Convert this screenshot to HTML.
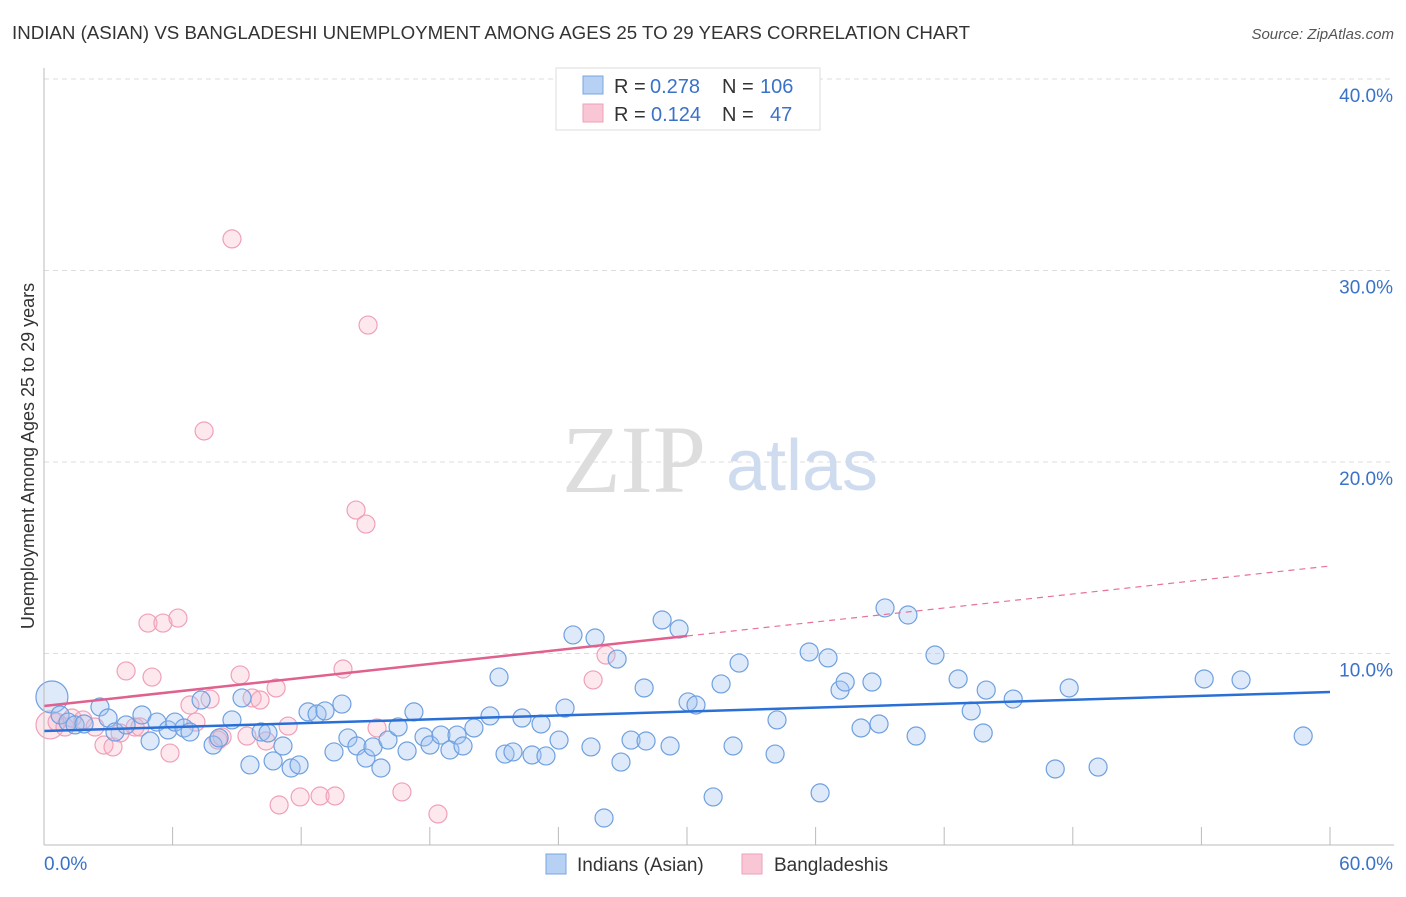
<!DOCTYPE html>
<html><head><meta charset="utf-8"><style>
body{margin:0;background:#fff;font-family:"Liberation Sans",sans-serif}
svg text{font-family:"Liberation Sans",sans-serif}
</style></head><body>
<svg id="c" width="1406" height="892">
<text x="12" y="39" font-size="18" fill="#333" textLength="958" lengthAdjust="spacingAndGlyphs">INDIAN (ASIAN) VS BANGLADESHI UNEMPLOYMENT AMONG AGES 25 TO 29 YEARS CORRELATION CHART</text>
<text x="1394" y="39" font-size="15" fill="#555" text-anchor="end" font-style="italic">Source: ZipAtlas.com</text>
<g id="grid"></g>
<text x="634" y="492" font-size="96" fill="#ddd" text-anchor="middle" style="font-family:'Liberation Serif',serif">ZIP</text>
<text x="802" y="490" font-size="72" fill="#cfdcf0" text-anchor="middle">atlas</text>
<g id="marks"></g>
<g id="axes"></g>
<text transform="translate(34,456) rotate(-90)" font-size="18" fill="#333" text-anchor="middle">Unemployment Among Ages 25 to 29 years</text>
<g>
<rect x="556" y="68" width="264" height="62" fill="#fff" stroke="#ddd"/>
<rect x="583" y="76" width="20" height="18" fill="#b7d1f4" stroke="#7aa6e0"/>
<rect x="583" y="104" width="20" height="18" fill="#f9c6d5" stroke="#f0a0b8"/>
<text x="614" y="93" font-size="20" fill="#333">R =</text>
<text x="650" y="93" font-size="20" fill="#3a72c8">0.278</text>
<text x="722" y="93" font-size="20" fill="#333">N =</text>
<text x="760" y="93" font-size="20" fill="#3a72c8">106</text>
<text x="614" y="121" font-size="20" fill="#333">R =</text>
<text x="651" y="121" font-size="20" fill="#3a72c8">0.124</text>
<text x="722" y="121" font-size="20" fill="#333">N =</text>
<text x="770" y="121" font-size="20" fill="#3a72c8">47</text>
</g>
<g>
<rect x="546" y="854" width="20" height="20" fill="#b7d1f4" stroke="#7aa6e0"/>
<text x="577" y="871" font-size="19" fill="#333">Indians (Asian)</text>
<rect x="742" y="854" width="20" height="20" fill="#f9c6d5" stroke="#f0a0b8"/>
<text x="774" y="871" font-size="19" fill="#333">Bangladeshis</text>
</g>
</svg>
<script>
const yTicks=[10,20,30,40];
const yTickLabels=["10.0%","20.0%","30.0%","40.0%"];
const xTickVals=[0,6,12,18,24,30,36,42,48,54,60];
const blueX=[0.37,0.75,1.12,1.45,1.87,2.61,2.99,3.31,3.83,4.57,4.95,5.27,5.79,6.11,6.53,6.81,7.33,7.89,8.17,8.77,9.24,9.61,10.13,10.45,10.69,11.15,11.53,11.90,12.32,12.74,13.11,13.53,13.90,14.18,14.60,15.02,15.35,15.72,16.05,16.52,16.94,17.26,17.73,18.01,18.52,18.94,19.27,19.55,20.06,20.81,21.23,21.51,21.88,22.30,22.77,23.19,23.42,24.03,24.31,24.68,25.52,25.71,26.13,26.74,26.92,27.39,28.00,28.09,28.84,29.21,29.63,30.05,30.42,31.22,31.59,32.15,32.43,34.11,34.20,35.70,36.21,36.58,37.14,37.38,38.12,38.63,38.96,39.24,40.31,40.69,41.57,42.65,43.26,43.82,43.96,45.22,47.18,47.83,49.18,54.13,55.85,58.75];
const blueY=[7.73,6.79,6.42,6.27,6.32,7.21,6.63,5.90,6.27,6.79,5.43,6.42,6.01,6.42,6.11,5.90,7.57,5.22,5.59,6.53,7.68,4.18,5.90,5.85,4.39,5.17,4.02,4.18,6.95,6.84,7.00,4.86,7.36,5.59,5.17,4.54,5.12,4.02,5.48,6.16,4.91,6.95,5.64,5.22,5.74,4.96,5.74,5.17,6.11,6.74,8.77,4.75,4.86,6.63,4.70,6.32,4.65,5.48,7.15,10.97,5.12,10.81,1.41,9.71,4.33,5.48,8.20,5.43,11.75,5.17,11.28,7.47,7.31,2.51,8.41,5.17,9.50,4.75,6.53,10.08,2.72,9.77,8.09,8.51,6.11,8.51,6.32,12.38,12.01,5.69,9.92,8.67,7.00,5.85,8.09,7.62,3.97,8.20,4.07,8.67,8.62,5.69];
const pinkX=[0.28,0.61,0.98,1.31,1.82,2.38,2.80,3.22,3.55,3.83,4.25,4.48,4.85,5.04,5.55,5.88,6.25,6.81,7.09,7.47,7.75,8.12,8.31,8.77,9.15,9.47,9.71,10.08,10.36,10.83,10.97,11.39,11.95,12.88,13.58,13.95,14.56,15.02,15.12,15.54,16.70,18.38,25.62,26.22];
const pinkY=[6.27,6.42,6.16,6.63,6.53,6.16,5.22,5.12,5.85,9.09,6.16,6.16,11.59,8.77,11.59,4.80,11.85,7.31,6.42,21.62,7.62,5.48,5.64,31.65,8.88,5.69,7.68,7.57,5.43,8.20,2.09,6.21,2.51,2.56,2.56,9.19,17.49,16.76,27.15,6.11,2.77,1.62,8.62,9.92];
const blueTrend=[5.95,7.99];
const pinkTrend=[7.26,14.57];
const NS="http://www.w3.org/2000/svg";
const X=v=>44+v/60*1286;
const Y=v=>845-v/10*191.5;
function mk(t,a,p){const e=document.createElementNS(NS,t);for(const k in a)e.setAttribute(k,a[k]);p.appendChild(e);return e;}
const grid=document.getElementById('grid'),axes=document.getElementById('axes'),marks=document.getElementById('marks');
yTicks.forEach((v,i)=>{
 const l=mk('line',{x1:44,x2:1394,y1:Y(v),y2:Y(v),stroke:'#ddd','stroke-dasharray':'5,4'},grid);
 
 
 const t=mk('text',{x:1393,y:Y(v)+23,'font-size':19,fill:'#3a72c8','text-anchor':'end'},axes);
 t.textContent=yTickLabels[i];
 
 
});
mk('line',{x1:44,x2:44,y1:68,y2:845,stroke:'#bbb'},axes);
mk('line',{x1:44,x2:1394,y1:845,y2:845,stroke:'#bbb'},axes);
xTickVals.forEach(v=>{
 const l=mk('line',{x1:X(v),x2:X(v),y1:827,y2:845,stroke:'#bbb'},axes);
 
 
});
const x0=mk('text',{x:44,y:870,'font-size':19,fill:'#3a72c8'},axes);x0.textContent='0.0%';


const x1=mk('text',{x:1393,y:870,'font-size':19,fill:'#3a72c8','text-anchor':'end'},axes);x1.textContent='60.0%';


pinkX.forEach((v,i)=>{
 const c=mk('circle',{cx:X(v),cy:Y(pinkY[i]),r:i==0?14:9,fill:'rgba(248,180,200,0.3)',stroke:'#f0a0b8','stroke-width':1.2},marks);
 
 
});
blueX.forEach((v,i)=>{
 const c=mk('circle',{cx:X(v),cy:Y(blueY[i]),r:i==0?16:9,fill:'rgba(160,196,240,0.35)',stroke:'#6fa0e0','stroke-width':1.2},marks);
 
 
});
const pm=pinkTrend[0]+(pinkTrend[1]-pinkTrend[0])*0.5;
const pd=mk('line',{x1:X(30),y1:Y(pm),x2:X(60),y2:Y(pinkTrend[1]),stroke:'#e8709a','stroke-width':1.2,'stroke-dasharray':'6,5'},marks);


const ps=mk('line',{x1:X(0),y1:Y(pinkTrend[0]),x2:X(30),y2:Y(pm),stroke:'#e0608e','stroke-width':2.5},marks);


const bl=mk('line',{x1:X(0),y1:Y(blueTrend[0]),x2:X(60),y2:Y(blueTrend[1]),stroke:'#2a6fd6','stroke-width':2.5},marks);


</script>
</body></html>
